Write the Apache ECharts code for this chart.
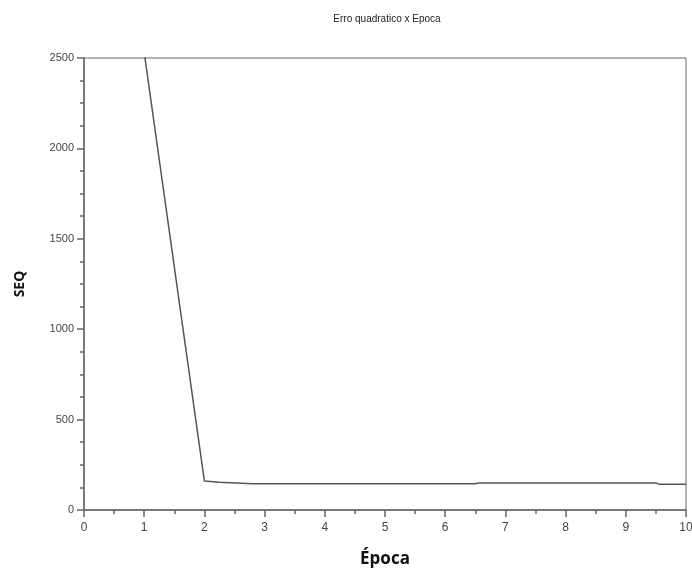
<!DOCTYPE html>
<html>
<head>
<meta charset="utf-8">
<script src="https://cdn.jsdelivr.net/npm/echarts@6/dist/echarts.min.js"></script>
<style>
  html, body { margin: 0; padding: 0; background: #fff; }
  #chart { width: 692px; height: 577px; }
</style>
</head>
<body>
<div id="chart"></div>
<script>
// Training error per epoch
const epochs = [1, 2, 2.25, 2.8, 6.5, 6.55, 9.5, 9.55, 10];
const seqValues = [2530, 160, 153, 145, 145, 150, 150, 143, 143];
const xTicks = [0, 1, 2, 3, 4, 5, 6, 7, 8, 9, 10];
const yTicks = [0, 500, 1000, 1500, 2000, 2500];

const points = epochs.map((e, i) => [e, seqValues[i]]);

const chart = echarts.init(document.getElementById('chart'));
chart.setOption({
  animation: false,
  backgroundColor: '#fff',
  title: {
    text: 'Erro quadratico x Epoca',
    left: 382, top: 9, textAlign: 'center',
    textStyle: { fontFamily: 'Liberation Sans', fontSize: 10, fontWeight: 'normal', color: '#222' }
  },
  grid: {
    left: 84, right: 6, top: 58, bottom: 67,
    outerBoundsMode: 'none',
    show: true, borderColor: '#666', borderWidth: 1
  },
  xAxis: {
    type: 'value',
    min: xTicks[0], max: xTicks[xTicks.length - 1], interval: 1,
    name: 'Época', nameLocation: 'middle', nameGap: 41,
    nameTextStyle: { fontFamily: 'Open Sans', fontSize: 17, fontWeight: 'bold', color: '#111' },
    axisLine: { lineStyle: { color: '#666', width: 1.5 } },
    axisTick: { length: 7, lineStyle: { color: '#666', width: 1.5 } },
    minorTick: { show: true, splitNumber: 2, length: 4, lineStyle: { color: '#666', width: 1.5 } },
    splitLine: { show: false },
    axisLabel: { fontFamily: 'Liberation Sans', fontSize: 12, color: '#444', margin: 12, formatter: v => String(v) }
  },
  yAxis: {
    type: 'value',
    min: yTicks[0], max: yTicks[yTicks.length - 1], interval: 500,
    name: 'SEQ', nameLocation: 'middle', nameGap: 57, nameRotate: 90,
    nameTextStyle: { fontFamily: 'Open Sans', fontSize: 14, fontWeight: 'bold', color: '#111' },
    axisLine: { show: true, lineStyle: { color: '#666', width: 1.5 } },
    axisTick: { show: true, length: 7, lineStyle: { color: '#666', width: 1.5 } },
    minorTick: { show: true, splitNumber: 4, length: 4, lineStyle: { color: '#666', width: 1.5 } },
    splitLine: { show: false },
    axisLabel: { fontFamily: 'Liberation Sans', fontSize: 11, color: '#444', margin: 10, formatter: v => String(v) }
  },
  series: [{
    type: 'line',
    data: points,
    clip: true,
    showSymbol: false,
    lineStyle: { color: '#555', width: 1.5 }
  }]
});
</script>
</body>
</html>
